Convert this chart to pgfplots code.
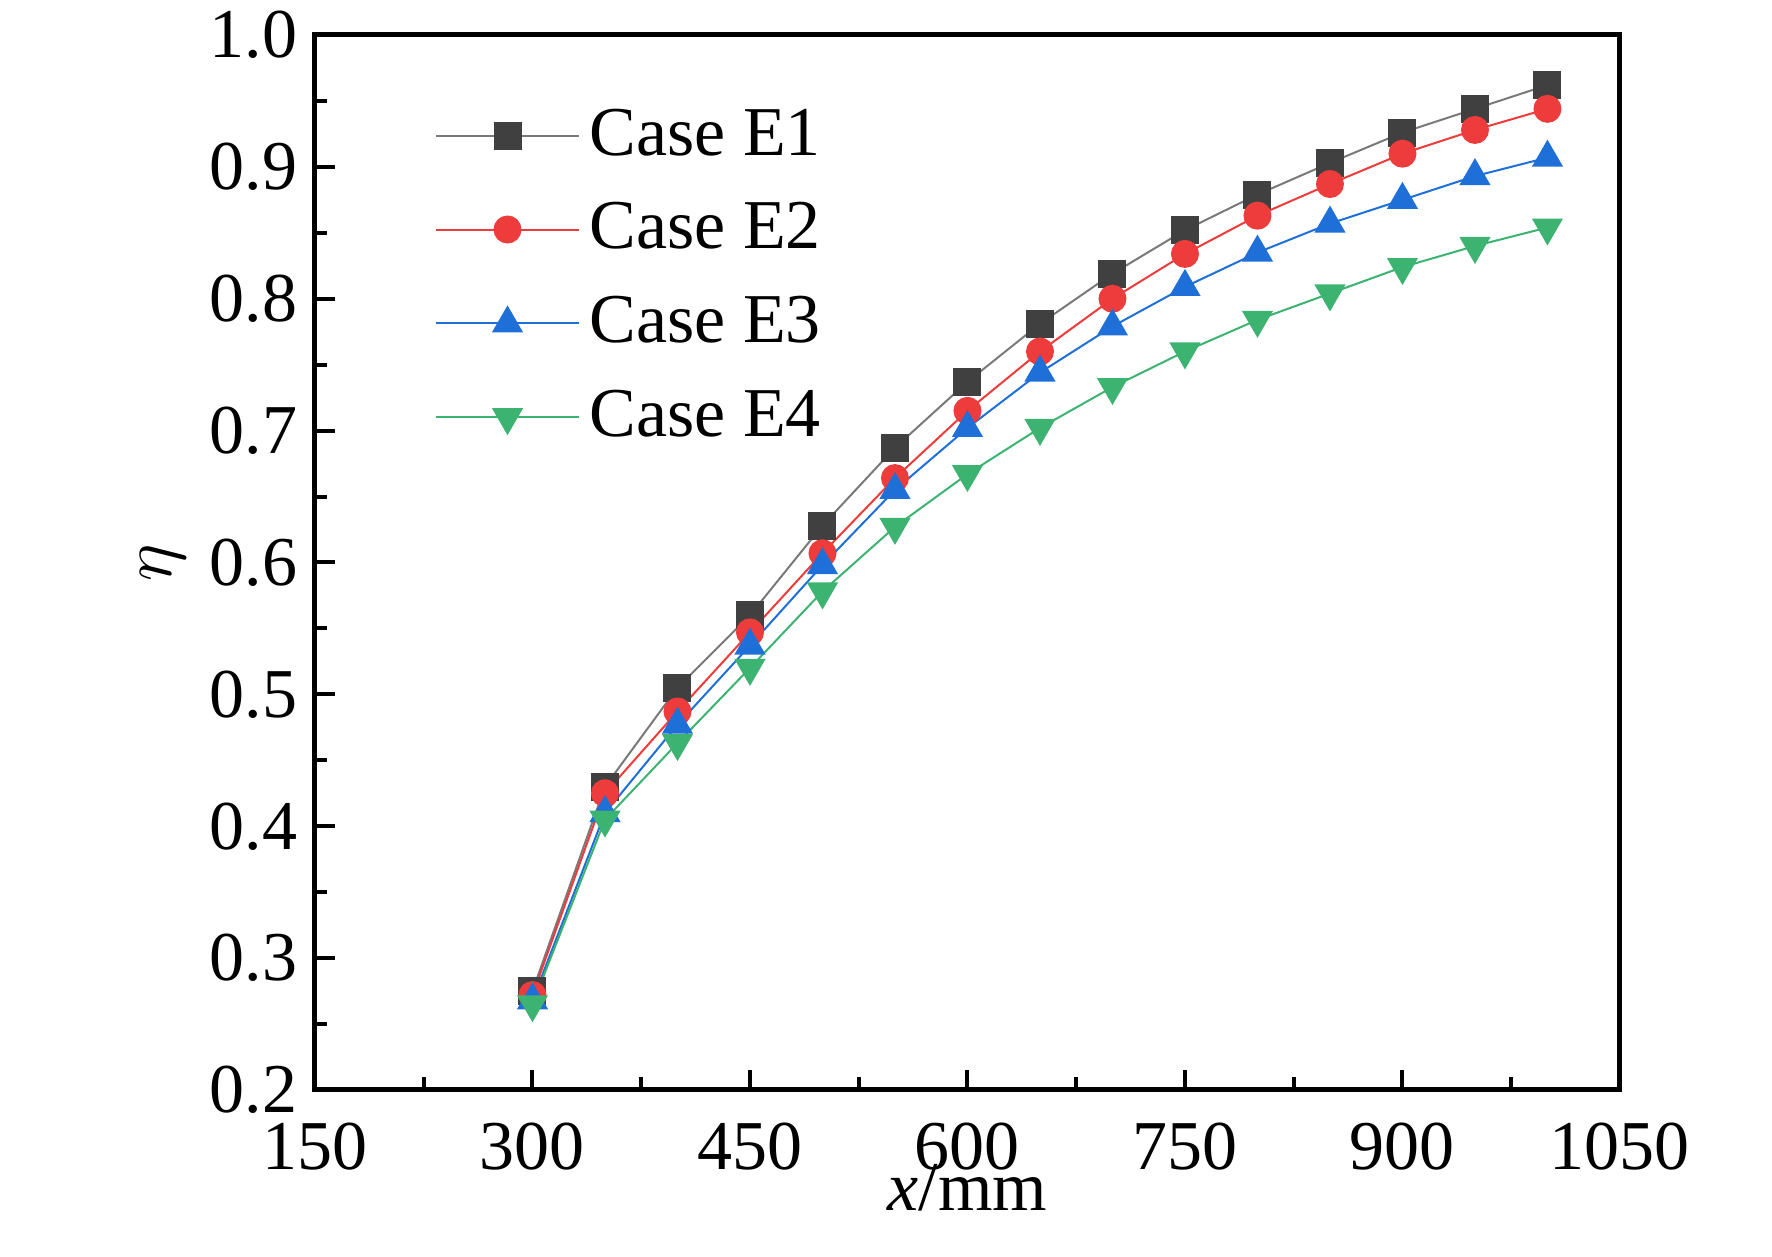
\documentclass[border=0pt]{standalone}
\usepackage{fontspec}
\setmainfont{Liberation Serif}
\usepackage{pgfplots}
\pgfplotsset{compat=1.18}
\definecolor{cE1}{HTML}{404040}
\definecolor{cE2}{HTML}{EE3B3B}
\definecolor{cE3}{HTML}{1F6FD8}
\definecolor{cE4}{HTML}{3CB371}
\begin{document}
\begin{tikzpicture}
\useasboundingbox (0,0) rectangle (354.4pt,251.4pt);
\begin{axis}[at={(63pt,33.4pt)},anchor=south west,scale only axis,
 width=261pt,height=211pt,
 xmin=150,xmax=1050,ymin=0.2,ymax=1.0,
 xtick={150,300,...,1050},ytick={0.2,0.3,...,1.0},
 minor x tick num=1,minor y tick num=1,
 xtick pos=bottom,ytick pos=left,tick align=inside,
 major tick length=4pt,minor tick length=2.5pt,
 axis line style={line width=1pt},tick style={line width=0.8pt,black},
 /pgf/number format/assume math mode=true,
 yticklabel style={/pgf/number format/fixed,/pgf/number format/fixed zerofill,/pgf/number format/precision=1},
 xticklabel style={/pgf/number format/set thousands separator={},yshift=-3pt},
 ticklabel style={font=\fontsize{14}{16}\selectfont},
 label style={font=\fontsize{14}{16}\selectfont},
 xlabel={\textit{x}/mm},ylabel={$\eta$},
 xlabel style={yshift=8pt},ylabel style={yshift=-2pt},
 legend style={draw=none,fill=none,at={(0.08,0.95)},anchor=north west,font=\fontsize{14}{16}\selectfont,row sep=4pt},
 legend cell align=left,
 legend image code/.code={\draw[mark repeat=2,mark phase=2] plot coordinates {(0cm,0cm) (0.5cm,0cm) (1.0cm,0cm)};},
 every axis plot/.append style={line width=0.4pt},
]
\addplot[color=cE1!70,mark=square*,mark size=2.6pt,mark options={fill=cE1,draw=cE1}] coordinates {(300,0.275)(350,0.43)(400,0.505)(450,0.56)(500,0.628)(550,0.687)(600,0.737)(650,0.781)(700,0.819)(750,0.852)(800,0.879)(850,0.903)(900,0.926)(950,0.944)(1000,0.962)};
\addlegendentry{Case E1}
\addplot[color=cE2,mark=*,mark size=2.6pt,mark options={fill=cE2,draw=cE2}] coordinates {(300,0.272)(350,0.425)(400,0.487)(450,0.547)(500,0.607)(550,0.664)(600,0.715)(650,0.76)(700,0.8)(750,0.834)(800,0.863)(850,0.887)(900,0.91)(950,0.928)(1000,0.944)};
\addlegendentry{Case E2}
\addplot[color=cE3,mark=triangle*,mark size=3.2pt,mark options={fill=cE3,draw=cE3}] coordinates {(300,0.268)(350,0.41)(400,0.477)(450,0.537)(500,0.598)(550,0.655)(600,0.702)(650,0.744)(700,0.779)(750,0.809)(800,0.835)(850,0.857)(900,0.875)(950,0.893)(1000,0.907)};
\addlegendentry{Case E3}
\addplot[color=cE4,mark=triangle*,mark size=3.2pt,mark options={fill=cE4,draw=cE4,rotate=180}] coordinates {(300,0.265)(350,0.405)(400,0.463)(450,0.52)(500,0.578)(550,0.627)(600,0.667)(650,0.702)(700,0.733)(750,0.76)(800,0.784)(850,0.804)(900,0.824)(950,0.84)(1000,0.854)};
\addlegendentry{Case E4}
\end{axis}
\end{tikzpicture}
\end{document}
